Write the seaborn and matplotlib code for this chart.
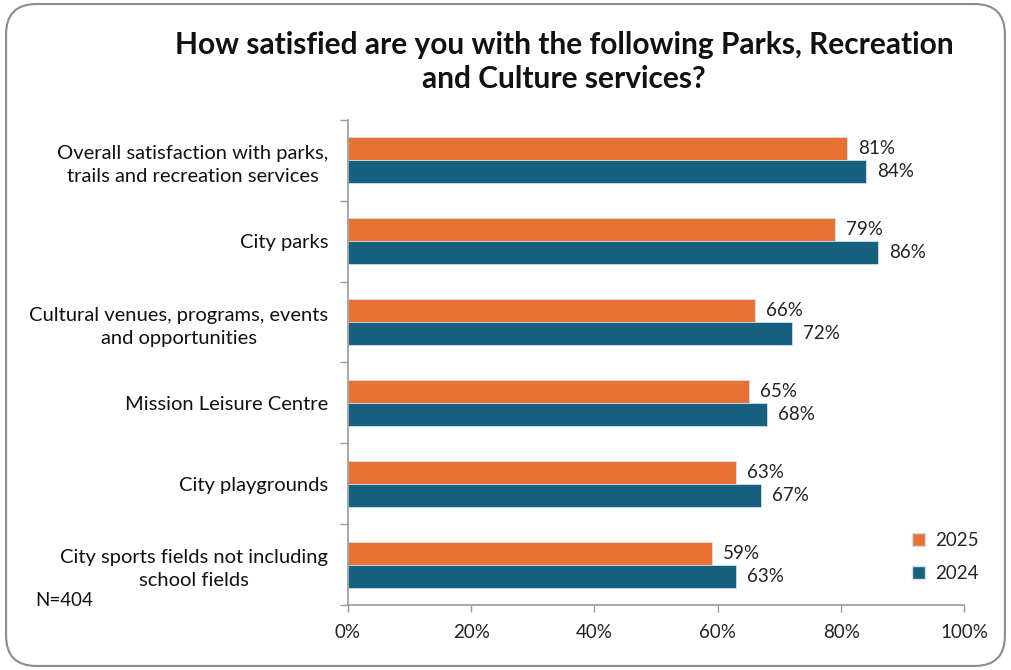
import matplotlib
matplotlib.use("Agg")
import matplotlib.pyplot as plt
from matplotlib.patches import FancyBboxPatch, Patch
import seaborn as sns
import pandas as pd

categories = [
    "Overall satisfaction with parks,\ntrails and recreation services",
    "City parks",
    "Cultural venues, programs, events\nand opportunities",
    "Mission Leisure Centre",
    "City playgrounds",
    "City sports fields not including\nschool fields",
]
years = ["2025", "2024"]
values_2025 = [81, 79, 66, 65, 63, 59]
values_2024 = [84, 86, 72, 68, 67, 63]
xticks = [0, 20, 40, 60, 80, 100]
xtick_labels = ["0%", "20%", "40%", "60%", "80%", "100%"]
colors = {"2025": "#E87234", "2024": "#17607F"}

sns.set_theme(style="white")
plt.rcParams["font.family"] = ["Lato", "DejaVu Sans"]

rows = []
for c, v in zip(categories, values_2025):
    rows.append({"category": c, "year": "2025", "value": v})
for c, v in zip(categories, values_2024):
    rows.append({"category": c, "year": "2024", "value": v})
df = pd.DataFrame(rows)

fig = plt.figure(figsize=(10.11, 6.70), dpi=100)
ax = fig.add_axes([0.344, 0.097, 0.610, 0.724])

sns.barplot(data=df, y="category", x="value", hue="year", hue_order=years,
            order=categories, palette=colors, saturation=1, width=0.57, orient="h",
            edgecolor="#cfe0ea", linewidth=0.6, ax=ax, legend=False)

for cont in ax.containers:
    ax.bar_label(cont, labels=[f"{int(v)}%" for v in cont.datavalues],
                 padding=8, fontsize=13.5, color="#222222")

ax.set_xlim(0, 100)
ax.set_ylim(len(categories) - 0.5, -0.5)
ax.set_xticks(xticks)
ax.set_xticklabels(xtick_labels, fontsize=13.5, color="#222222")
ax.set_xlabel("")
ax.set_ylabel("")
ax.tick_params(axis="y", length=0, pad=14, labelsize=14.5, labelcolor="#111111")
ax.tick_params(axis="x", length=5, width=1, color="#999999", direction="out", pad=9, bottom=True)
for lab in ax.get_yticklabels():
    lab.set_horizontalalignment("right")
    lab.set_multialignment("center")
    lab.set_linespacing(1.45)
ax.set_yticks([i - 0.5 for i in range(len(categories) + 1)], minor=True)
ax.tick_params(axis="y", which="minor", length=6, width=1, color="#999999", left=True)
ax.tick_params(axis="x", which="minor", bottom=False)
for s in ["top", "right"]:
    ax.spines[s].set_visible(False)
for s in ["left", "bottom"]:
    ax.spines[s].set_color("#999999")
    ax.spines[s].set_linewidth(1.2)

fig.text(0.558, 0.907, "How satisfied are you with the following Parks, Recreation\nand Culture services?",
         ha="center", va="center", fontsize=21.5, fontweight="bold", color="#111111",
         linespacing=1.25)
fig.text(0.035, 0.103, "N=404", fontsize=13.5, color="#111111", va="center")

handles = [Patch(facecolor=colors[y], edgecolor="#cfe0ea", label=y) for y in years]
fig.legend(handles=handles, loc="center", bbox_to_anchor=(0.935, 0.169), frameon=False,
           fontsize=13.5, handlelength=0.7, handleheight=0.7, handletextpad=0.5,
           labelspacing=0.85)

border = FancyBboxPatch((0.006, 0.006), 0.988, 0.988, boxstyle="round,pad=0,rounding_size=0.03",
                        transform=fig.transFigure, facecolor="none", edgecolor="#8c8c8c",
                        linewidth=1.5, mutation_aspect=1011 / 670)
fig.patches.append(border)

fig.savefig("out.png", dpi=100)
